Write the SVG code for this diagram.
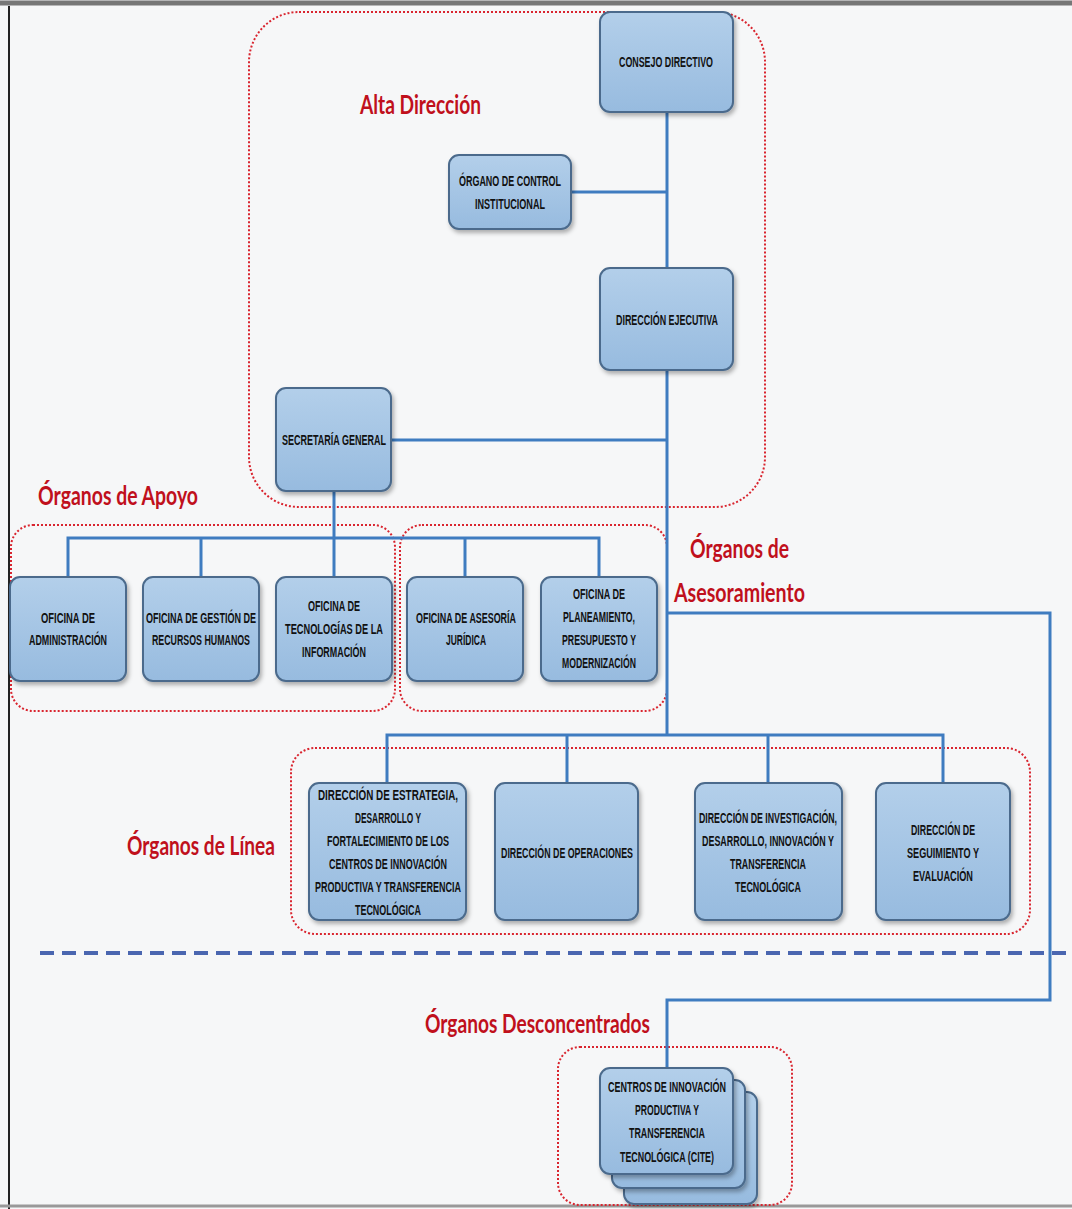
<svg xmlns="http://www.w3.org/2000/svg" width="1072" height="1209" viewBox="0 0 1072 1209">
<defs>
<linearGradient id="nodeFill" x1="0" y1="0" x2="0" y2="1">
<stop offset="0" stop-color="#b3cfea"/>
<stop offset="1" stop-color="#97bbdf"/>
</linearGradient>
<filter id="shadow" x="-10%" y="-10%" width="130%" height="130%">
<feDropShadow dx="2" dy="3" stdDeviation="2" flood-color="#000" flood-opacity="0.3"/>
</filter>
</defs>
<style>
.bg{fill:#f6f7f8}
.node{fill:url(#nodeFill);stroke:#4b6b8c;stroke-width:2;filter:url(#shadow)}
.nt{font-family:"Liberation Sans",Arial,sans-serif;font-weight:bold;font-size:14px;fill:#111;text-anchor:middle}
.grp{fill:none;stroke:#d9252f;stroke-width:2;stroke-dasharray:2 2}
.lbl{font-family:Lato,"Open Sans","Liberation Sans",sans-serif;font-weight:bold;font-size:26px;fill:#c0101c}
.conn{fill:none;stroke:#3f7cc0;stroke-width:3}
.sep{fill:none;stroke:#4a66b0;stroke-width:4;stroke-dasharray:14 8}
</style>
<rect class="bg" x="0" y="0" width="1072" height="1209"/>
<line x1="0" y1="3" x2="1072" y2="3" stroke="#777" stroke-width="5"/>
<line x1="9" y1="6" x2="9" y2="1209" stroke="#222" stroke-width="2"/>
<line x1="0" y1="1206" x2="1072" y2="1206" stroke="#999" stroke-width="3"/>

<g id="groups">
<rect class="grp" x="249" y="12" width="516" height="495" rx="50"/>
<rect class="grp" x="11" y="525" width="384" height="186" rx="22"/>
<rect class="grp" x="400" y="525" width="267" height="186" rx="22"/>
<rect class="grp" x="291" y="748" width="739" height="186" rx="24"/>
<rect class="grp" x="558" y="1047" width="234" height="158" rx="22"/>
</g>

<g id="labels">
<text class="lbl" x="360" y="114" textLength="121" lengthAdjust="spacingAndGlyphs">Alta Dirección</text>
<text class="lbl" x="38" y="505" textLength="160" lengthAdjust="spacingAndGlyphs">Órganos de Apoyo</text>
<text class="lbl" x="690" y="558" textLength="99" lengthAdjust="spacingAndGlyphs">Órganos de</text>
<text class="lbl" x="674" y="602" textLength="131" lengthAdjust="spacingAndGlyphs">Asesoramiento</text>
<text class="lbl" x="127" y="855" textLength="148" lengthAdjust="spacingAndGlyphs">Órganos de Línea</text>
<text class="lbl" x="425" y="1033" textLength="225" lengthAdjust="spacingAndGlyphs">Órganos Desconcentrados</text>
</g>

<path class="sep" d="M40 953 H1066"/>

<g id="connectors">
<path class="conn" d="M667 112 V268"/>
<path class="conn" d="M571 192 H667"/>
<path class="conn" d="M667 370 V735"/>
<path class="conn" d="M391 440 H667"/>
<path class="conn" d="M334 491 V538"/>
<path class="conn" d="M68 577 V538 H599 V577"/>
<path class="conn" d="M201 538 V577"/>
<path class="conn" d="M334 538 V577"/>
<path class="conn" d="M465 538 V577"/>
<path class="conn" d="M387 783 V735 H943 V783"/>
<path class="conn" d="M567 735 V783"/>
<path class="conn" d="M768 735 V783"/>
<path class="conn" d="M667 613 H1050 V1000 H667 V1068"/>
</g>

<g id="consejo-directivo">
<rect class="node" x="600" y="12" width="133" height="100" rx="10"/>
<text class="nt" x="666" y="67" textLength="94" lengthAdjust="spacingAndGlyphs">CONSEJO DIRECTIVO</text>
</g>
<g id="organo-control">
<rect class="node" x="449" y="155" width="122" height="74" rx="10"/>
<text class="nt" x="510" y="186" textLength="102" lengthAdjust="spacingAndGlyphs">ÓRGANO DE CONTROL</text>
<text class="nt" x="510" y="209" textLength="70" lengthAdjust="spacingAndGlyphs">INSTITUCIONAL</text>
</g>
<g id="direccion-ejecutiva">
<rect class="node" x="600" y="268" width="133" height="102" rx="10"/>
<text class="nt" x="667" y="325" textLength="102" lengthAdjust="spacingAndGlyphs">DIRECCIÓN EJECUTIVA</text>
</g>
<g id="secretaria-general">
<rect class="node" x="276" y="388" width="115" height="103" rx="10"/>
<text class="nt" x="334" y="445" textLength="104" lengthAdjust="spacingAndGlyphs">SECRETARÍA GENERAL</text>
</g>

<g id="oficina-administracion">
<rect class="node" x="10" y="577" width="116" height="104" rx="10"/>
<text class="nt" x="68" y="623" textLength="54" lengthAdjust="spacingAndGlyphs">OFICINA DE</text>
<text class="nt" x="68" y="645" textLength="78" lengthAdjust="spacingAndGlyphs">ADMINISTRACIÓN</text>
</g>
<g id="oficina-rrhh">
<rect class="node" x="143" y="577" width="116" height="104" rx="10"/>
<text class="nt" x="201" y="623" textLength="110" lengthAdjust="spacingAndGlyphs">OFICINA DE GESTIÓN DE</text>
<text class="nt" x="201" y="645" textLength="98" lengthAdjust="spacingAndGlyphs">RECURSOS HUMANOS</text>
</g>
<g id="oficina-ti">
<rect class="node" x="276" y="577" width="116" height="104" rx="10"/>
<text class="nt" x="334" y="611" textLength="52" lengthAdjust="spacingAndGlyphs">OFICINA DE</text>
<text class="nt" x="334" y="634" textLength="98" lengthAdjust="spacingAndGlyphs">TECNOLOGÍAS DE LA</text>
<text class="nt" x="334" y="657" textLength="64" lengthAdjust="spacingAndGlyphs">INFORMACIÓN</text>
</g>
<g id="oficina-asesoria-juridica">
<rect class="node" x="407" y="577" width="116" height="104" rx="10"/>
<text class="nt" x="466" y="623" textLength="100" lengthAdjust="spacingAndGlyphs">OFICINA DE ASESORÍA</text>
<text class="nt" x="466" y="645" textLength="40" lengthAdjust="spacingAndGlyphs">JURÍDICA</text>
</g>
<g id="oficina-planeamiento">
<rect class="node" x="541" y="577" width="116" height="104" rx="10"/>
<text class="nt" x="599" y="599" textLength="52" lengthAdjust="spacingAndGlyphs">OFICINA DE</text>
<text class="nt" x="599" y="622" textLength="72" lengthAdjust="spacingAndGlyphs">PLANEAMIENTO,</text>
<text class="nt" x="599" y="645" textLength="74" lengthAdjust="spacingAndGlyphs">PRESUPUESTO Y</text>
<text class="nt" x="599" y="668" textLength="74" lengthAdjust="spacingAndGlyphs">MODERNIZACIÓN</text>
</g>

<g id="direccion-estrategia">
<rect class="node" x="309" y="783" width="157" height="137" rx="10"/>
<text class="nt" x="388" y="800" textLength="140" lengthAdjust="spacingAndGlyphs">DIRECCIÓN DE ESTRATEGIA,</text>
<text class="nt" x="388" y="823" textLength="66" lengthAdjust="spacingAndGlyphs">DESARROLLO Y</text>
<text class="nt" x="388" y="846" textLength="122" lengthAdjust="spacingAndGlyphs">FORTALECIMIENTO DE LOS</text>
<text class="nt" x="388" y="869" textLength="118" lengthAdjust="spacingAndGlyphs">CENTROS DE INNOVACIÓN</text>
<text class="nt" x="388" y="892" textLength="146" lengthAdjust="spacingAndGlyphs">PRODUCTIVA Y TRANSFERENCIA</text>
<text class="nt" x="388" y="915" textLength="66" lengthAdjust="spacingAndGlyphs">TECNOLÓGICA</text>
</g>
<g id="direccion-operaciones">
<rect class="node" x="495" y="783" width="143" height="137" rx="10"/>
<text class="nt" x="567" y="858" textLength="132" lengthAdjust="spacingAndGlyphs">DIRECCIÓN DE OPERACIONES</text>
</g>
<g id="direccion-investigacion">
<rect class="node" x="695" y="783" width="147" height="137" rx="10"/>
<text class="nt" x="768" y="823" textLength="138" lengthAdjust="spacingAndGlyphs">DIRECCIÓN DE INVESTIGACIÓN,</text>
<text class="nt" x="768" y="846" textLength="132" lengthAdjust="spacingAndGlyphs">DESARROLLO, INNOVACIÓN Y</text>
<text class="nt" x="768" y="869" textLength="76" lengthAdjust="spacingAndGlyphs">TRANSFERENCIA</text>
<text class="nt" x="768" y="892" textLength="66" lengthAdjust="spacingAndGlyphs">TECNOLÓGICA</text>
</g>
<g id="direccion-seguimiento">
<rect class="node" x="876" y="783" width="134" height="137" rx="10"/>
<text class="nt" x="943" y="835" textLength="64" lengthAdjust="spacingAndGlyphs">DIRECCIÓN DE</text>
<text class="nt" x="943" y="858" textLength="72" lengthAdjust="spacingAndGlyphs">SEGUIMIENTO Y</text>
<text class="nt" x="943" y="881" textLength="60" lengthAdjust="spacingAndGlyphs">EVALUACIÓN</text>
</g>

<g id="cite">
<rect class="node" x="624" y="1092" width="133" height="112" rx="10"/>
<rect class="node" x="612" y="1080" width="133" height="108" rx="10"/>
<rect class="node" x="600" y="1068" width="133" height="106" rx="10"/>
<text class="nt" x="667" y="1092" textLength="118" lengthAdjust="spacingAndGlyphs">CENTROS DE INNOVACIÓN</text>
<text class="nt" x="667" y="1115" textLength="64" lengthAdjust="spacingAndGlyphs">PRODUCTIVA Y</text>
<text class="nt" x="667" y="1138" textLength="76" lengthAdjust="spacingAndGlyphs">TRANSFERENCIA</text>
<text class="nt" x="667" y="1162" textLength="94" lengthAdjust="spacingAndGlyphs">TECNOLÓGICA (CITE)</text>
</g>
</svg>
